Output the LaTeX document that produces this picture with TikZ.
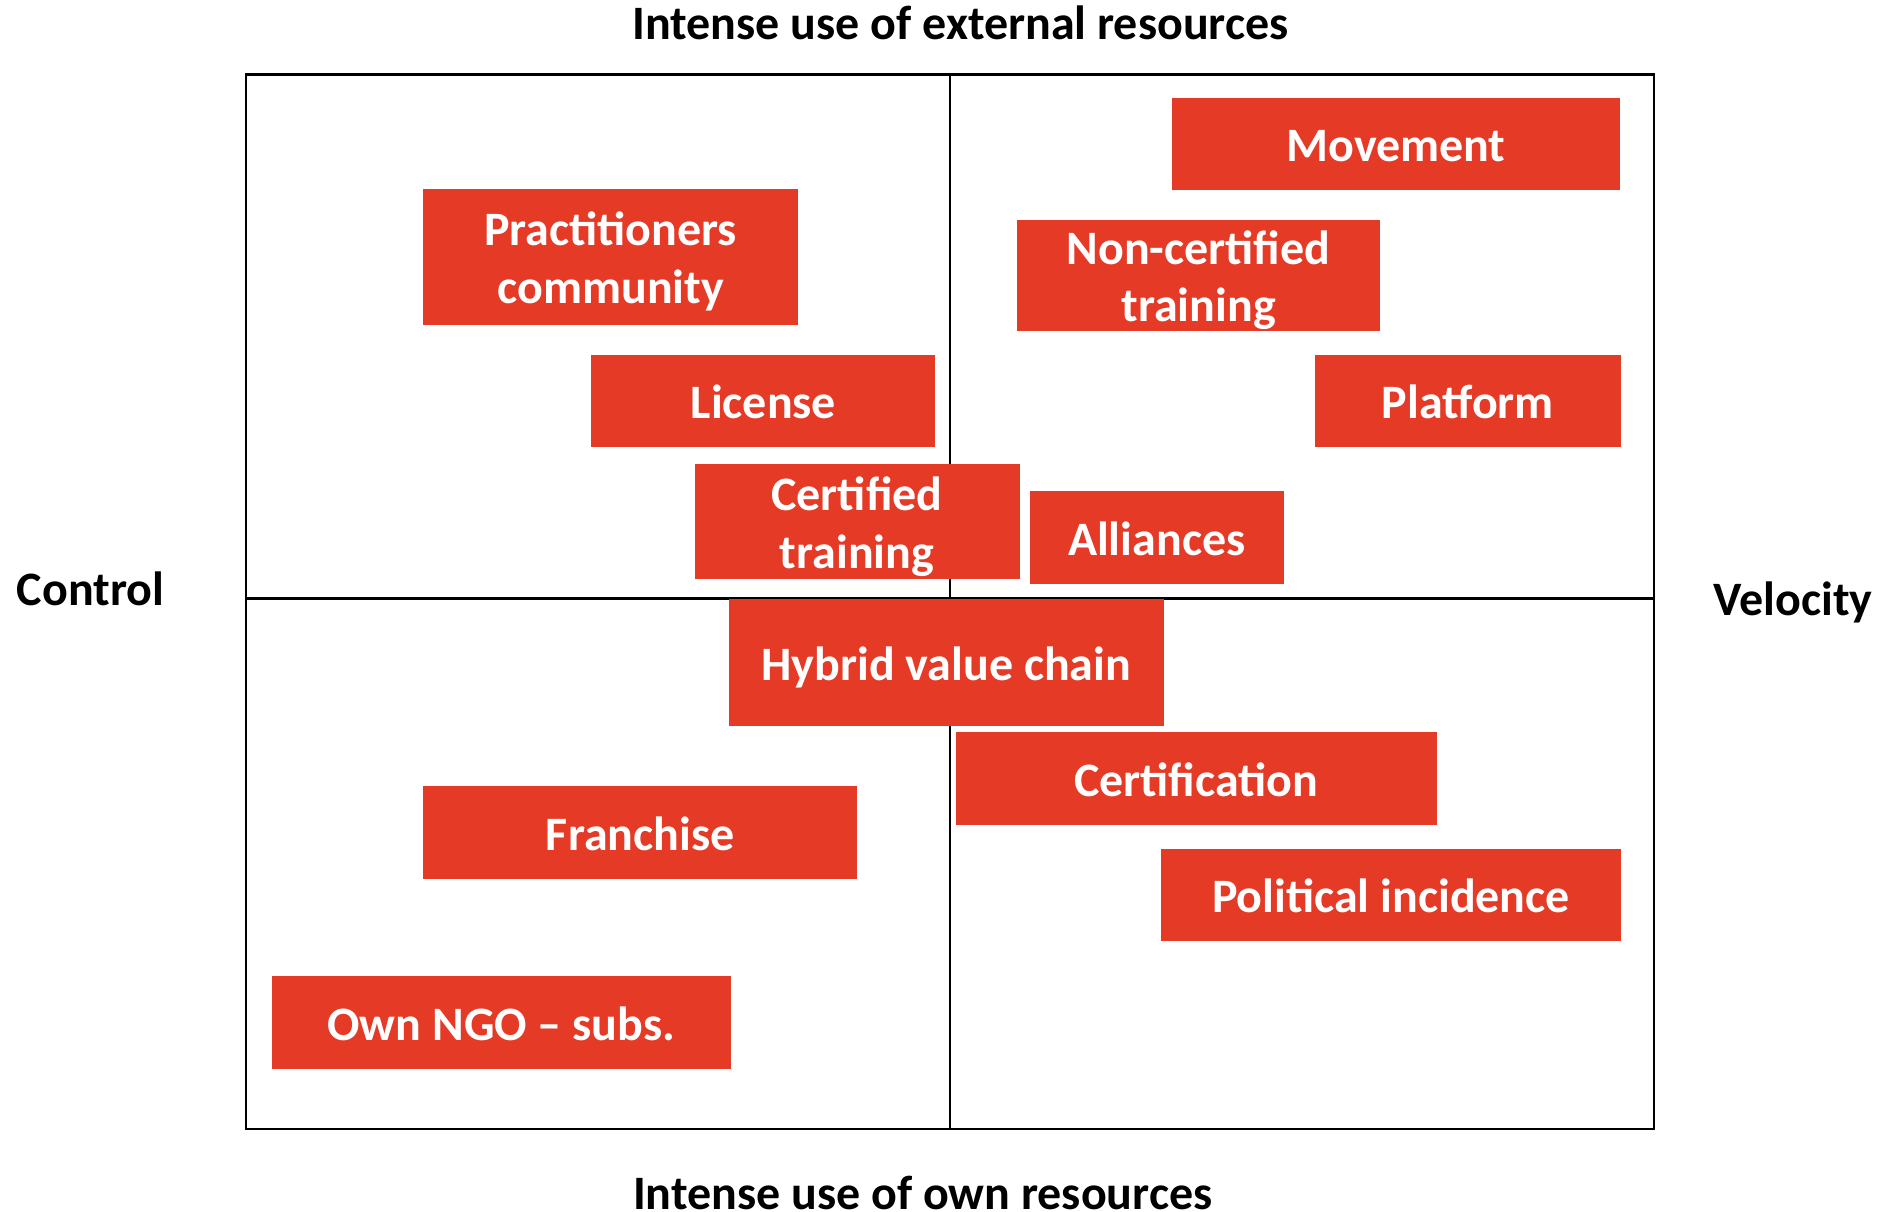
\documentclass[tikz,border=0pt]{standalone}
\usepackage{fontspec}
\setmainfont{Carlito}
\definecolor{boxred}{HTML}{E43A26}
\begin{document}
\begin{tikzpicture}[x=1pt, y=-1pt,
  big/.style = {font=\bfseries\fontsize{48}{57.6}\selectfont, inner sep=0pt},
  main/.style = {big, fill=boxred, text=white, text height=35.5pt, text depth=0pt},
  two/.style = {main, align=center, text height=93.1pt}]
\useasboundingbox (0,0) rectangle (1885,1212);
\coordinate (nw) at (246,74.5);
\coordinate (se) at (1654,1129);
\coordinate (n) at (950,74.5);
\coordinate (s) at (950,1129);
\coordinate (w) at (246,598.7);
\coordinate (e) at (1654,598.7);
\draw[line width=2.6pt] (nw) rectangle (se);
\draw[line width=2.6pt] (n) -- (s);
\draw[line width=2.6pt] (w) -- (e);
\node[main, minimum width=448pt, minimum height=91pt] (movement) at (1396,144) {Movement};
\node[two, minimum width=375pt, minimum height=136pt] (practitioners) at (610.7,257) {Practitioners\\community};
\node[two, minimum width=363pt, minimum height=110.6pt] (noncertified) at (1198.6,275.3) {Non-certified\\training};
\node[main, minimum width=344pt, minimum height=92.6pt] (license) at (763.4,400.9) {License};
\node[main, minimum width=305.4pt, minimum height=92.6pt] (platform) at (1467.9,400.9) {Platform};
\node[two, minimum width=325pt, minimum height=114.4pt] (certified) at (857,521.5) {Certified\\training};
\node[main, minimum width=254.3pt, minimum height=93.3pt] (alliances) at (1156.7,537.7) {Alliances};
\node[main, minimum width=434.6pt, minimum height=126.7pt] (hybrid) at (946.3,662.4) {Hybrid value chain};
\node[main, minimum width=481pt, minimum height=92.6pt] (certification) at (1196.2,778.4) {Certification};
\node[main, minimum width=434pt, minimum height=92.6pt] (franchise) at (640.2,832.5) {Franchise};
\node[main, minimum width=459.3pt, minimum height=92.6pt] (political) at (1391,895) {Political incidence};
\node[main, minimum width=459.2pt, minimum height=92.6pt] (ngo) at (501.3,1022.5) {Own NGO – subs.};
\node[big, anchor=base] (external) at (960.6,40) {Intense use of external resources};
\node[big, anchor=base] (own) at (922.7,1209) {Intense use of own resources};
\node[big, anchor=base west] (control) at (16.7,605) {Control};
\node[big, anchor=base west] (velocity) at (1713.3,615) {Velocity};
\end{tikzpicture}
\end{document}
